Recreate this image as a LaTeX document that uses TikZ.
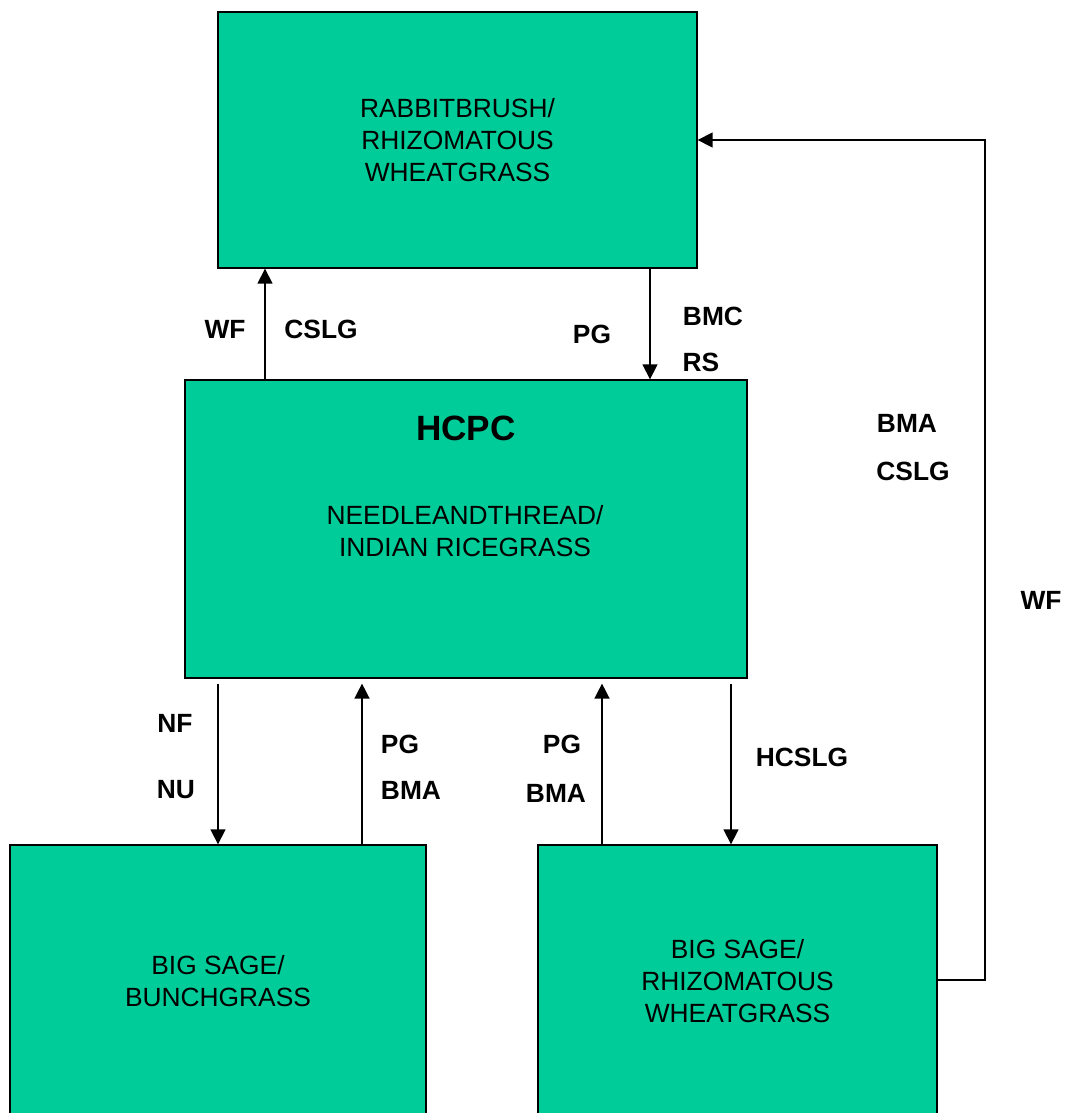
\documentclass[tikz,border=0pt]{standalone}
\usepackage{fontspec}
\setmainfont{Liberation Sans}
\usetikzlibrary{arrows.meta}
\definecolor{boxgreen}{HTML}{00CC99}
\begin{document}
\begin{tikzpicture}[x=0.02cm, y=-0.02cm,
		box_style/.style={rectangle,draw=black,line width=0.8pt,fill=boxgreen,align=center,inner sep=0pt,font=\fontsize{15}{18}\selectfont},
		text_style/.style={align=center,inner sep=0pt,font=\fontsize{15}{18}\selectfont},
		label_style/.style={inner sep=0pt,font=\bfseries\fontsize{15}{18}\selectfont},
		edge_style/.style={draw=black,line width=0.85pt,-{Triangle[length=8.5pt,width=8.5pt]}}]

		\useasboundingbox (0,0) rectangle (1065,1113);

		% states
		\node[box_style, minimum width=9.58cm, minimum height=5.12cm] (rabbit) at (457.5,140) {RABBITBRUSH/\\RHIZOMATOUS\\WHEATGRASS};
		\node[box_style, minimum width=11.24cm, minimum height=5.96cm] (hcpc) at (466,529) {};
		\node[inner sep=0pt, font=\bfseries\fontsize{20}{24}\selectfont] (hcpc_title) at (466,428) {HCPC};
		\node[text_style] (hcpc_text) at (465,531) {NEEDLEANDTHREAD/\\INDIAN RICEGRASS};
		\node[box_style, minimum width=8.32cm, minimum height=5.44cm] (sage_bunch) at (218,981) {BIG SAGE/\\BUNCHGRASS};
		\node[box_style, minimum width=7.98cm, minimum height=5.44cm] (sage_rhizo) at (737.5,981) {BIG SAGE/\\RHIZOMATOUS\\WHEATGRASS};

		% transitions
		\draw[edge_style] (hcpc.north -| 265,0) -- (rabbit.south -| 265,0);
		\draw[edge_style] (rabbit.south -| 650,0) -- (hcpc.north -| 650,0);
		\draw[edge_style, shorten <=2.8pt] (hcpc.south -| 218,0) -- (sage_bunch.north -| 218,0);
		\draw[edge_style, shorten >=2.8pt] (sage_bunch.north -| 362,0) -- (hcpc.south -| 362,0);
		\draw[edge_style, shorten >=2.8pt] (sage_rhizo.north -| 602,0) -- (hcpc.south -| 602,0);
		\draw[edge_style, shorten <=2.8pt] (hcpc.south -| 731,0) -- (sage_rhizo.north -| 731,0);
		\draw[edge_style] (sage_rhizo.east |- 0,980) -| (985,140) -- (rabbit.east |- 0,140);

		% labels
		\node[label_style] (l_wf) at (225,329) {WF};
		\node[label_style] (l_cslg) at (321,329) {CSLG};
		\node[label_style] (l_pg) at (592,334) {PG};
		\node[label_style] (l_bmc) at (713,316) {BMC};
		\node[label_style] (l_rs) at (701,362) {RS};
		\node[label_style] (l_bma) at (907,423) {BMA};
		\node[label_style] (l_cslg2) at (913,471) {CSLG};
		\node[label_style] (l_wf2) at (1041,600) {WF};
		\node[label_style] (l_nf) at (175,723) {NF};
		\node[label_style] (l_nu) at (176,790) {NU};
		\node[label_style] (l_pg2) at (400,744) {PG};
		\node[label_style] (l_bma2) at (411,790) {BMA};
		\node[label_style] (l_pg3) at (562,744) {PG};
		\node[label_style] (l_bma3) at (556,793) {BMA};
		\node[label_style] (l_hcslg) at (802,757) {HCSLG};
\end{tikzpicture}
\end{document}
